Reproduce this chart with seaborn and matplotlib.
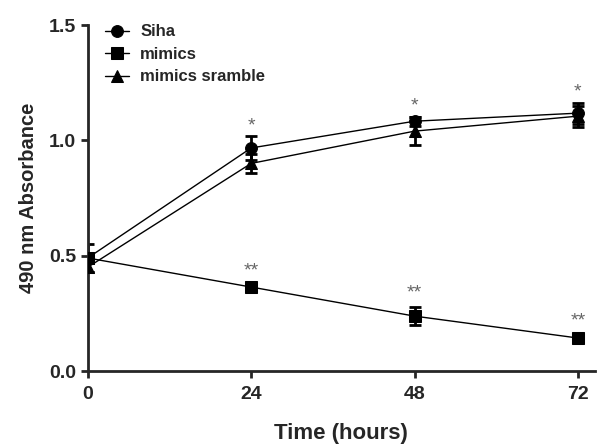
import matplotlib
matplotlib.use("Agg")
import matplotlib.pyplot as plt
import seaborn as sns
import pandas as pd
import numpy as np

hours = [0, 24, 48, 72]
series_names = ["Siha", "mimics", "mimics sramble"]
siha = [0.49, 0.967, 1.083, 1.118]
siha_err = [0.06, 0.05, 0.02, 0.045]
mimics = [0.49, 0.364, 0.238, 0.143]
mimics_err = [0.02, 0.01, 0.04, 0.01]
scramble = [0.45, 0.90, 1.04, 1.105]
scramble_err = [0.02, 0.04, 0.06, 0.045]
siha_stars = ["", "*", "*", "*"]
mimics_stars = ["", "**", "**", "**"]

sns.set_theme(style="ticks")
plt.rcParams['font.family'] = ['Liberation Sans', 'DejaVu Sans']
plt.rcParams['font.weight'] = 'bold'

rows = []
for name, vals, errs in zip(series_names, [siha, mimics, scramble], [siha_err, mimics_err, scramble_err]):
    for h, v, e in zip(hours, vals, errs):
        rows.append({"Time": h, "Absorbance": v, "err": e, "group": name})
df = pd.DataFrame(rows)

fig = plt.figure(figsize=(6.01, 4.47), dpi=100)
ax = fig.add_axes([0.146, 0.17, 0.844, 0.774])

markers = {"Siha": "o", "mimics": "s", "mimics sramble": "^"}
for name in series_names:
    sub = df[df.group == name]
    ax.errorbar(sub.Time, sub.Absorbance, yerr=sub.err, fmt="none", ecolor="black",
                elinewidth=2, capsize=4.5, capthick=2, zorder=2)

sns.lineplot(data=df, x="Time", y="Absorbance", hue="group", style="group",
             markers=markers, dashes=False, palette=["black"] * 3,
             markersize=8.5, linewidth=1, markeredgecolor="black", ax=ax, zorder=3,
             hue_order=series_names, style_order=series_names)

for h, v, e, s in zip(hours, siha, siha_err, siha_stars):
    if s:
        ax.text(h, v + e + 0.01, s, ha="center", va="bottom", fontsize=14,
                fontweight="normal", color="#666666")
for h, v, e, s in zip(hours, mimics, mimics_err, mimics_stars):
    if s:
        ax.text(h, v + e + 0.025, s, ha="center", va="bottom", fontsize=14,
                fontweight="normal", color="#666666")

ax.set_xlim(0, 74.5)
ax.set_ylim(0, 1.5)
ax.set_xticks(hours)
ax.set_xticklabels([str(h) for h in hours])
ax.set_yticks([0.0, 0.5, 1.0, 1.5])
ax.set_yticklabels(["0.0", "0.5", "1.0", "1.5"])
ax.tick_params(axis="both", labelsize=14, width=2, length=5, direction="out")
ax.tick_params(axis="x", pad=6)
for t in ax.get_xticklabels() + ax.get_yticklabels():
    t.set_fontweight("bold")
ax.spines["left"].set_linewidth(2)
ax.spines["bottom"].set_linewidth(2)
ax.spines["top"].set_visible(False)
ax.spines["right"].set_visible(False)
ax.set_xlabel("Time (hours)", fontsize=16, fontweight="bold", labelpad=14)
ax.set_ylabel("490 nm Absorbance", fontsize=14.5, fontweight="bold", labelpad=8)

leg = ax.legend(loc="upper left", frameon=False, fontsize=12, bbox_to_anchor=(0.005, 1.045),
                handlelength=1.4, handletextpad=0.7, labelspacing=0.45, markerscale=1.0)
for t in leg.get_texts():
    t.set_fontweight("bold")

fig.savefig("out.png", dpi=100)
